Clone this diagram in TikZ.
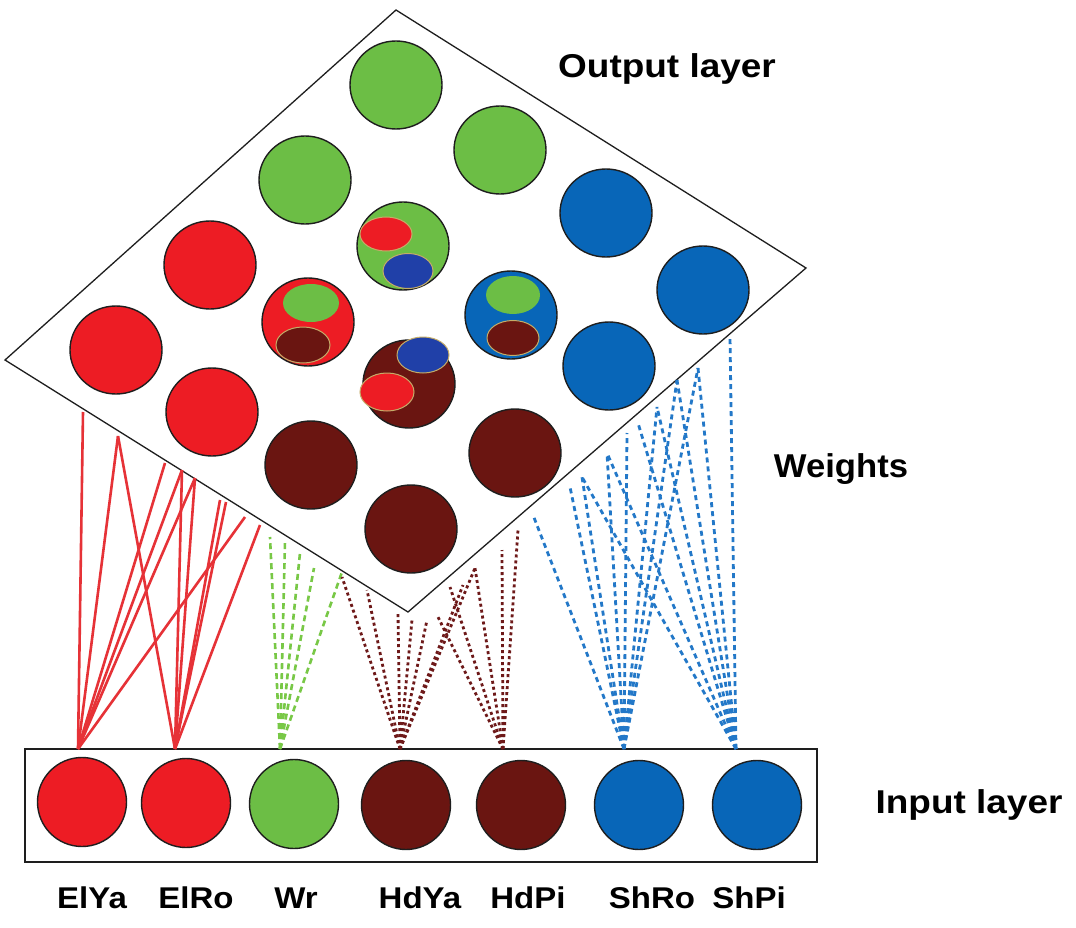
\documentclass[tikz,border=0pt]{standalone}
\usepackage{fontspec}
\setmainfont{Liberation Sans}
\usetikzlibrary{shapes.geometric}
\definecolor{cred}{RGB}{237,28,36}
\definecolor{cgreen}{RGB}{108,190,69}
\definecolor{cbrown}{RGB}{106,21,17}
\definecolor{cblue}{RGB}{8,102,184}
\definecolor{cblueIn}{RGB}{32,64,168}
\definecolor{ctan}{RGB}{196,172,104}
\definecolor{lred}{RGB}{230,50,55}
\definecolor{lgreen}{RGB}{120,200,70}
\definecolor{lbrown}{RGB}{110,25,25}
\definecolor{lblue}{RGB}{35,120,200}
\definecolor{edgec}{RGB}{30,30,30}
\begin{document}
\begin{tikzpicture}[x=1pt,y=-1pt,
 outc/.style={ellipse, draw=edgec, line width=1.4pt, minimum width=92pt, minimum height=88pt, inner sep=0pt},
 inc/.style={circle, draw=edgec, line width=1.4pt, minimum size=89pt, inner sep=0pt},
 innere/.style={ellipse, draw=ctan, line width=1pt, inner sep=0pt},
 redw/.style={draw=lred, line width=2.6pt},
 greenw/.style={draw=lgreen, line width=2.6pt, dash pattern=on 6pt off 4pt},
 brownw/.style={draw=lbrown, line width=2.8pt, dash pattern=on 3pt off 3pt},
 bluew/.style={draw=lblue, line width=2.8pt, dash pattern=on 5pt off 4pt},
 titletext/.style={font=\fontsize{33}{36}\selectfont\bfseries, anchor=base, inner sep=0pt},
 lbltext/.style={font=\fontsize{30}{32}\selectfont\bfseries, anchor=base, inner sep=0pt}]
\useasboundingbox (0,0) rectangle (1076,928);
\fill[white] (0,0) rectangle (1076,928);

% output layer frame
\coordinate (pt) at (396,10);
\coordinate (pr) at (806,268);
\coordinate (pb) at (408,612);
\coordinate (pl) at (5,360);
\draw[edgec, line width=1.3pt] (pt) -- (pr) -- (pb) -- (pl) -- cycle;

% output nodes
\node[outc, fill=cgreen] (o1) at (396,85) {};
\node[outc, fill=cgreen] (o2) at (500,150) {};
\node[outc, fill=cblue] (o3) at (606,213) {};
\node[outc, fill=cblue] (o4) at (703,290) {};
\node[outc, fill=cgreen] (o5) at (305,180) {};
\node[outc, fill=cgreen] (o6) at (403,246) {};
\node[outc, fill=cblue] (o7) at (511,315) {};
\node[outc, fill=cblue] (o8) at (609,366) {};
\node[outc, fill=cred] (o9) at (210,265) {};
\node[outc, fill=cred] (o10) at (308,322) {};
\node[outc, fill=cbrown] (o11) at (409,384) {};
\node[outc, fill=cbrown] (o12) at (515,453) {};
\node[outc, fill=cred] (o13) at (116,350) {};
\node[outc, fill=cred] (o14) at (212,412) {};
\node[outc, fill=cbrown] (o15) at (311,465) {};
\node[outc, fill=cbrown] (o16) at (411,529) {};

% inner ellipses of mixed nodes
\node[innere, fill=cred, minimum width=52pt, minimum height=34pt] (m6a) at (386,234) {};
\node[innere, fill=cblueIn, minimum width=50pt, minimum height=35pt] (m6b) at (408,271) {};
\node[innere, fill=cgreen, draw=none, minimum width=56pt, minimum height=38pt] (m10a) at (311,303) {};
\node[innere, fill=cbrown, minimum width=54pt, minimum height=36pt] (m10b) at (303,345) {};
\node[innere, fill=cgreen, draw=none, minimum width=54pt, minimum height=38pt] (m7a) at (513,295) {};
\node[innere, fill=cbrown, minimum width=52pt, minimum height=35pt] (m7b) at (513,338) {};
\node[innere, fill=cblueIn, minimum width=52pt, minimum height=36pt] (m11a) at (423,355) {};
\node[innere, fill=cred, minimum width=54pt, minimum height=38pt] (m11b) at (387,392) {};

% input layer
\node[draw=edgec, line width=1.3pt, minimum width=792pt, minimum height=113pt, inner sep=0pt] (box) at (421,805.5) {};
\node[inc, fill=cred] (ElYa) at (82,802) {};
\node[inc, fill=cred] (ElRo) at (186,803) {};
\node[inc, fill=cgreen] (Wr) at (294,804) {};
\node[inc, fill=cbrown] (HdYa) at (406,805) {};
\node[inc, fill=cbrown] (HdPi) at (521,805) {};
\node[inc, fill=cblue] (ShRo) at (639,805) {};
\node[inc, fill=cblue] (ShPi) at (757,805) {};

% connector anchors on the input box
\coordinate (tElYa) at (78,749);
\coordinate (tElRo) at (175,749);
\coordinate (tWr) at (280,749);
\coordinate (tHdYa) at (400,749);
\coordinate (tHdPi) at (503,749);
\coordinate (tShRo) at (624,749);
\coordinate (tShPi) at (736,749);

% connector anchors on the output frame
\foreach \n/\x/\y in {r1/83/412,r2/118/436,r3/165/463,r4/182/470,r5/195/478,r6/220/500,r7/226/502,r8/245/517,r9/260/525,
  g1/270/537,g2/285/541,g3/300/553,g4/314/568,g5/342/572,
  d1/342/577,d2/367/590,d3/398/613,d4/412/620,d5/427/620,d6/437/615,d7/450/587,d8/463/585,d9/475/568,d10/502/550,d11/518/530,
  b1/533/515,b2/570/487,b3/582/477,b4/607/453,b5/627/433,b6/638/423,b7/657/407,b8/677/380,b9/698/368,b10/730/337}
  \coordinate (\n) at (\x,\y);

% weights
\foreach \n in {r1,r2,r3,r4,r5,r8} \draw[redw] (tElYa) -- (\n);
\foreach \n in {r2,r4,r5,r6,r7,r9} \draw[redw] (tElRo) -- (\n);
\foreach \n in {g1,g2,g3,g4,g5} \draw[greenw] (tWr) -- (\n);
\foreach \n in {d1,d2,d3,d4,d5,d8,d9} \draw[brownw] (tHdYa) -- (\n);
\foreach \n in {d6,d7,d9,d10,d11} \draw[brownw] (tHdPi) -- (\n);
\foreach \n in {b1,b2,b3,b4,b5,b7,b8,b9} \draw[bluew] (tShRo) -- (\n);
\foreach \n in {b3,b4,b6,b7,b8,b9,b10} \draw[bluew] (tShPi) -- (\n);

% texts
\node[titletext] (tout) at (667,78) {\scalebox{1.12}[1]{Output layer}};
\node[titletext] (tw) at (841,477) {\scalebox{1.05}[1]{Weights}};
\node[titletext] (tin) at (969,813) {\scalebox{1.12}[1]{Input layer}};
\node[lbltext] (l1) at (92,908) {\scalebox{1.1}[1]{ElYa}};
\node[lbltext] (l2) at (196,908) {\scalebox{1.1}[1]{ElRo}};
\node[lbltext] (l3) at (296,908) {\scalebox{1.1}[1]{Wr}};
\node[lbltext] (l4) at (420,908) {\scalebox{1.1}[1]{HdYa}};
\node[lbltext] (l5) at (528,908) {\scalebox{1.1}[1]{HdPi}};
\node[lbltext] (l6) at (652,908) {\scalebox{1.1}[1]{ShRo}};
\node[lbltext] (l7) at (749,908) {\scalebox{1.1}[1]{ShPi}};
\end{tikzpicture}
\end{document}
